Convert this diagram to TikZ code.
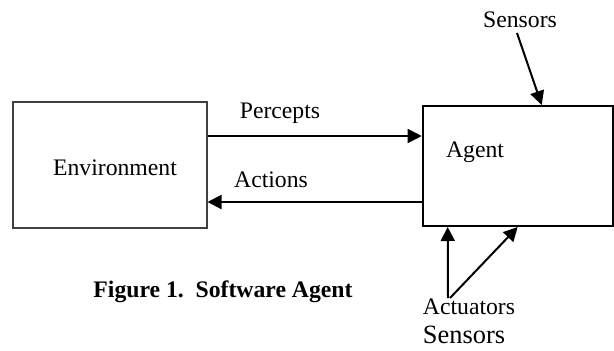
\documentclass[tikz,border=0pt]{standalone}
\usepackage{fontspec}
\setmainfont{Liberation Serif}
\usetikzlibrary{arrows.meta,calc}
\begin{document}
\begin{tikzpicture}[x=0.5pt,y=-0.5pt,
  box/.style={draw, rectangle, inner sep=0pt, anchor=north west},
  lbl/.style={inner sep=0pt, font=\fontsize{11.85}{14}\selectfont},
  arr/.style={line width=1pt, -{Triangle[length=7pt,width=7pt]}}]
\useasboundingbox (0,0) rectangle (614,350);
\node[box, draw=black!75, line width=0.75pt, minimum width=97pt, minimum height=63pt] (env) at (12,101) {};
\node[box, draw=black, line width=1pt, minimum width=95pt, minimum height=60pt] (agent) at (421.7,105) {};
\node[lbl] (envt) at (115,168) {Environment};
\node[lbl] (agentt) at (475,152) {Agent};
\node[lbl] (perc) at (280,113) {Percepts};
\node[lbl] (act) at (271,180) {Actions};
\node[lbl] (sens) at (520,20) {Sensors};
\node[lbl] (actu) at (469,307) {Actuators};
\node[inner sep=0pt, font=\fontsize{13.2}{15}\selectfont] (sens2) at (464,335) {Sensors};
\node[inner sep=0pt, font=\fontsize{11.85}{14}\selectfont\bfseries] (cap) at (223,292) {Figure 1.\ \ Software Agent};
\coordinate (pY) at (0,136);
\coordinate (aY) at (0,202);
\coordinate (s1) at (517,33);
\coordinate (b1) at (448,298);
\coordinate (b2) at (450,298);
\draw[arr] (env.east |- pY) -- (agent.west |- pY);
\draw[arr] (agent.west |- aY) -- (env.east |- aY);
\draw[arr] (s1) -- ($(agent.north west)+(120,0)$);
\draw[arr] (b1) -- ($(agent.south west)+(26,0)$);
\draw[arr] (b2) -- ($(agent.south west)+(96,0)$);
\end{tikzpicture}
\end{document}
